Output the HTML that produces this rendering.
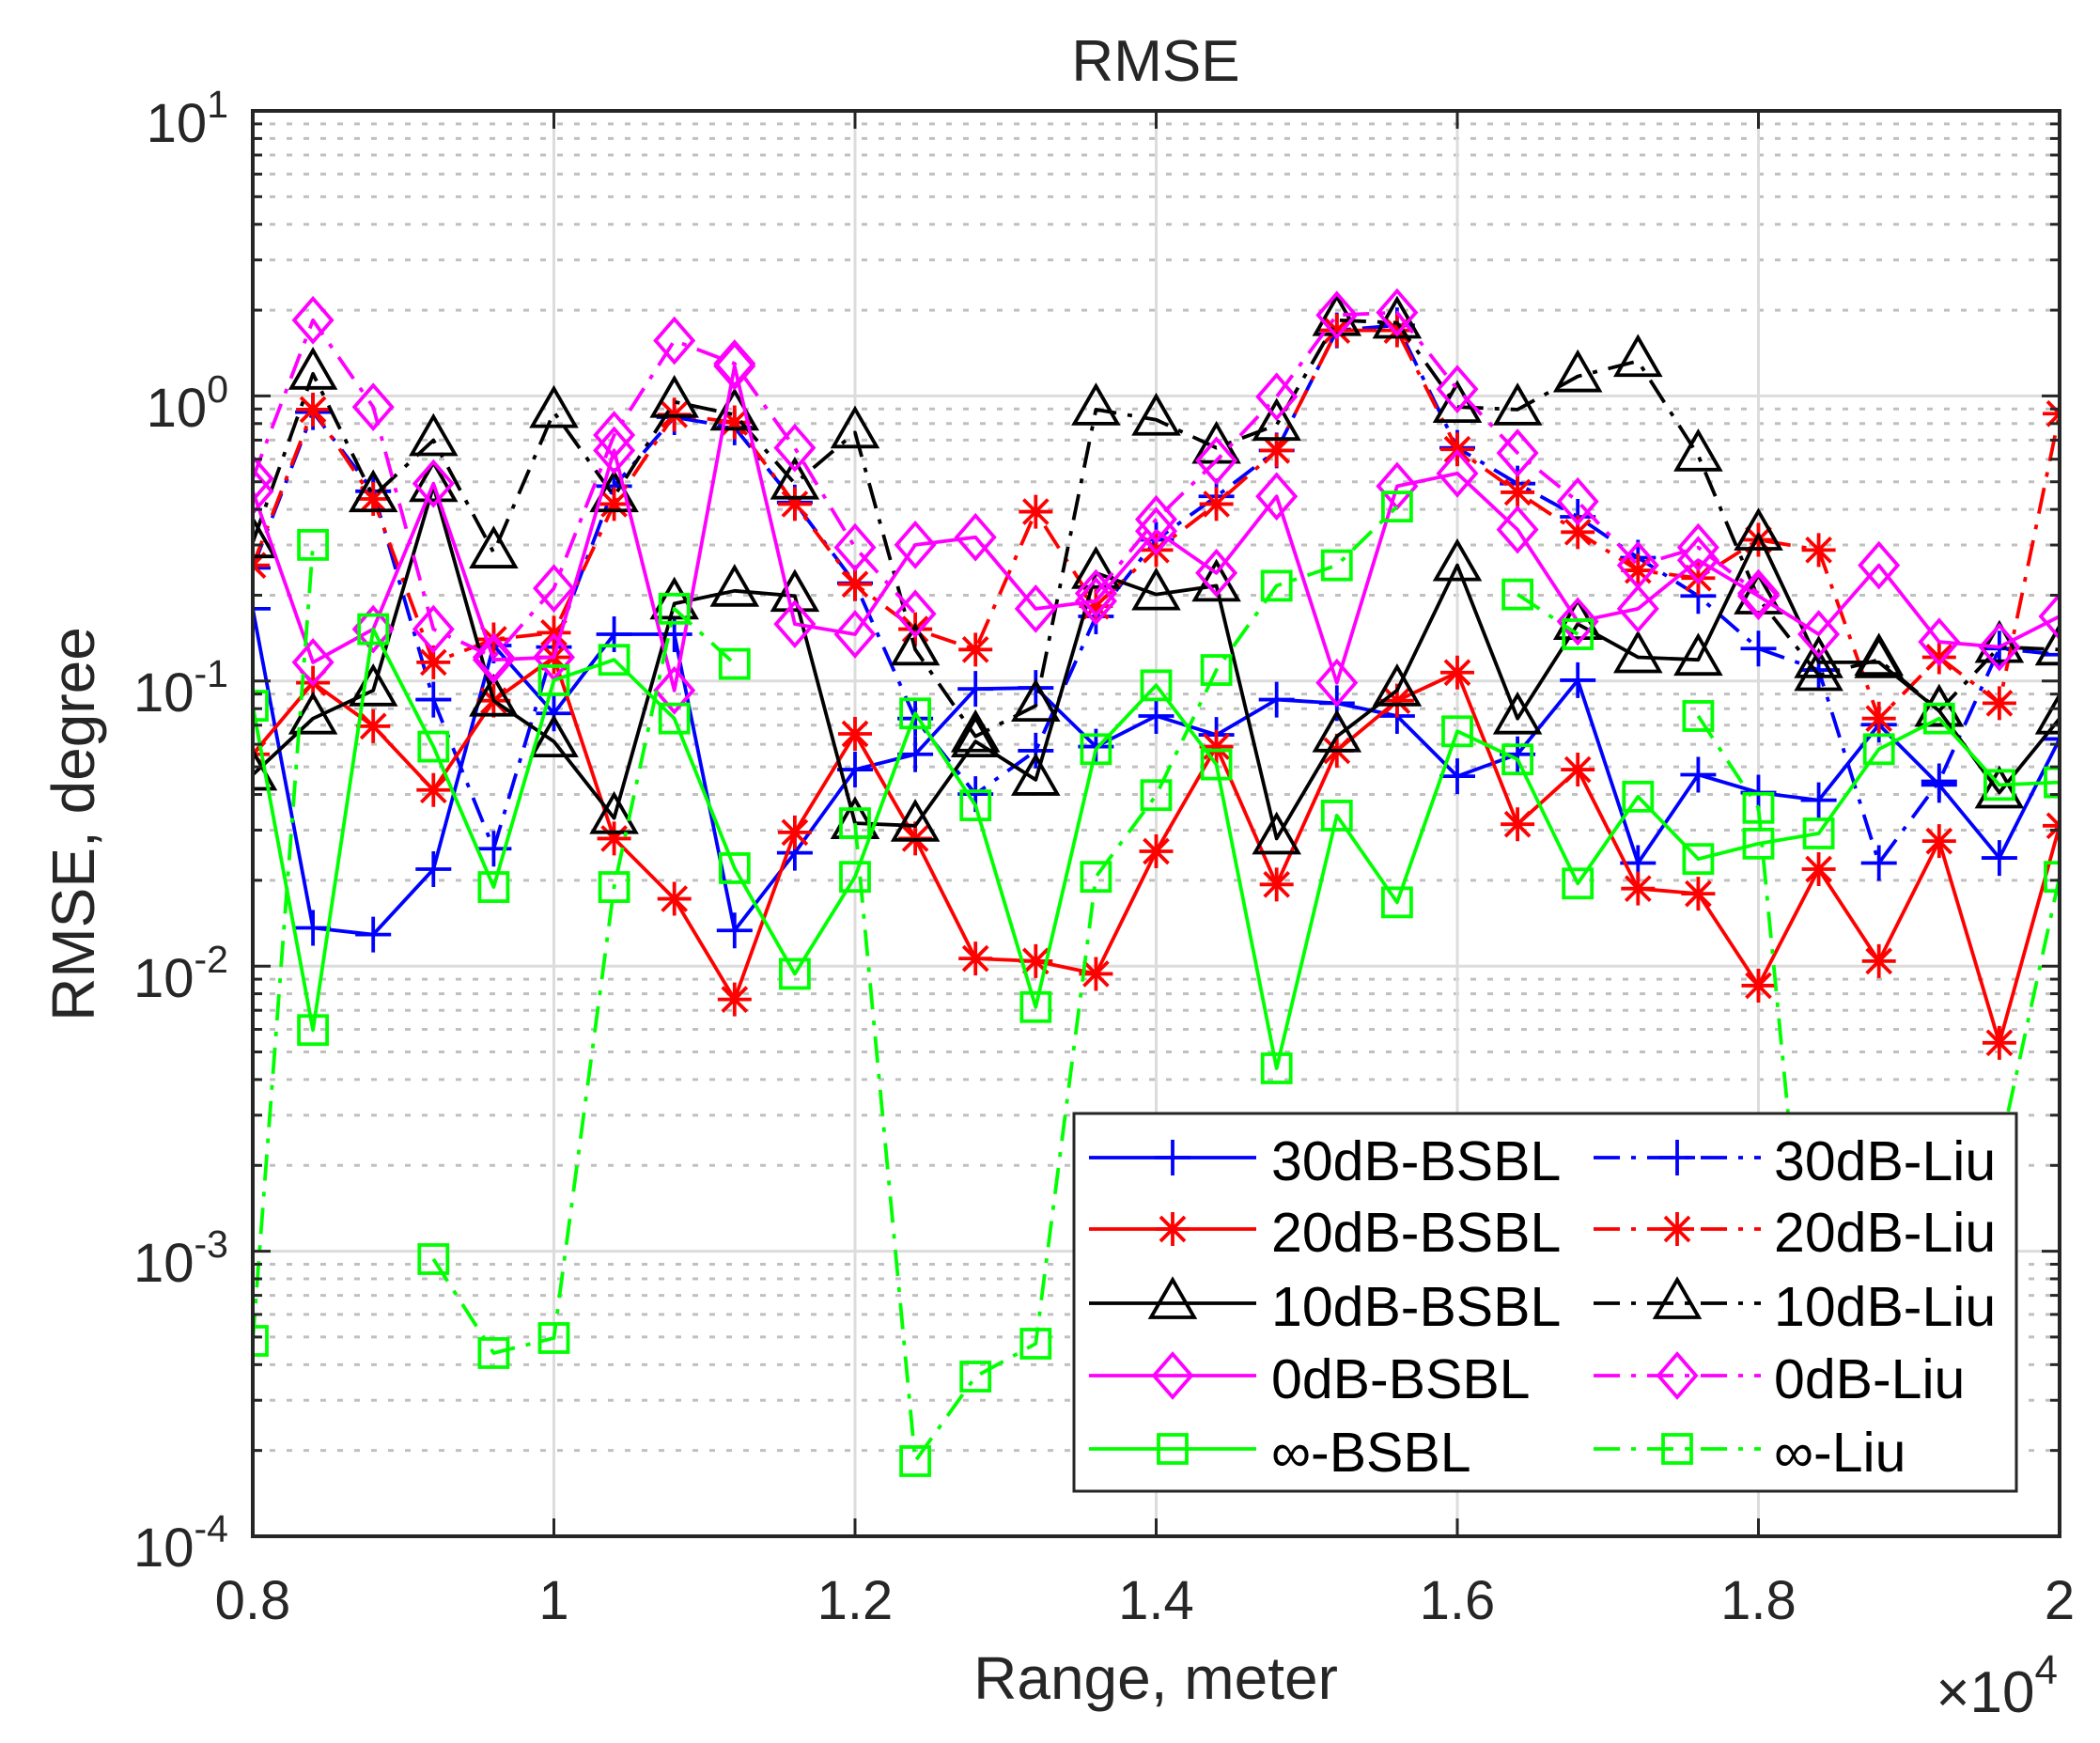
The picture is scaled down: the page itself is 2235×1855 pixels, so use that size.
<!DOCTYPE html>
<html><head><meta charset="utf-8"><style>
html,body{margin:0;padding:0;background:#fff;}
svg{display:block;font-family:"Liberation Sans",Arial,sans-serif;}
</style></head><body>
<svg id="s" width="2235" height="1855" viewBox="0 0 2235 1855" xmlns="http://www.w3.org/2000/svg">
<rect width="2235" height="1855" fill="#fff"/>
<g id="grid"></g>
<g id="series"></g>
<g id="axes"></g>
<g id="legend"></g>
<text x="1230" y="86" font-size="62" text-anchor="middle" fill="#262626">RMSE</text>
<text x="1230" y="1808" font-size="64" text-anchor="middle" fill="#262626">Range, meter</text>
<text transform="translate(100,877) rotate(-90)" font-size="64" text-anchor="middle" fill="#262626">RMSE, degree</text>
<text x="2190" y="1822" font-size="62" text-anchor="end" fill="#262626">×10<tspan dy="-30" font-size="44">4</tspan></text>
<g font-size="58" fill="#262626" text-anchor="middle">
<text x="269" y="1723">0.8</text><text x="589.5" y="1723">1</text><text x="910" y="1723">1.2</text><text x="1230.5" y="1723">1.4</text><text x="1551" y="1723">1.6</text><text x="1871.5" y="1723">1.8</text><text x="2192" y="1723">2</text>
</g>
<g font-size="58" fill="#262626" text-anchor="end">
<text x="243" y="151">10<tspan dy="-26" font-size="41">1</tspan></text>
<text x="243" y="454">10<tspan dy="-26" font-size="41">0</tspan></text>
<text x="243" y="757">10<tspan dy="-26" font-size="41">-1</tspan></text>
<text x="243" y="1061">10<tspan dy="-26" font-size="41">-2</tspan></text>
<text x="243" y="1364">10<tspan dy="-26" font-size="41">-3</tspan></text>
<text x="243" y="1667">10<tspan dy="-26" font-size="41">-4</tspan></text>
</g>
<g font-size="59" fill="#000">
<text x="1353" y="1256">30dB-BSBL</text><text x="1888" y="1256">30dB-Liu</text>
<text x="1353" y="1332">20dB-BSBL</text><text x="1888" y="1332">20dB-Liu</text>
<text x="1353" y="1411">10dB-BSBL</text><text x="1888" y="1411">10dB-Liu</text>
<text x="1353" y="1488">0dB-BSBL</text><text x="1888" y="1488">0dB-Liu</text>
<text x="1353" y="1566">∞-BSBL</text><text x="1888" y="1566">∞-Liu</text>
</g>
</svg>
<script>
var NS="http://www.w3.org/2000/svg";
function el(p,t,a){var e=document.createElementNS(NS,t);for(var k in a)e.setAttribute(k,a[k]);p.appendChild(e);return e;}
var L=269,R=2192,T=118,B=1635,D=303.4,W=3.8,DA='28 12 5 12';
var grid=document.getElementById('grid'),axes=document.getElementById('axes'),ser=document.getElementById('series'),leg=document.getElementById('legend');
for(var d=0;d<5;d++){var yb=T+(d+1)*D;for(var k=2;k<=9;k++){var y=yb-Math.log10(k)*D;
el(grid,'line',{x1:L,x2:R,y1:y,y2:y,stroke:'#c0c0c0','stroke-width':3,'stroke-dasharray':'6 12'});
el(axes,'line',{x1:L,x2:L+10,y1:y,y2:y,stroke:'#262626','stroke-width':3});
el(axes,'line',{x1:R,x2:R-10,y1:y,y2:y,stroke:'#262626','stroke-width':3});}}
for(var d=0;d<=5;d++){var y=T+d*D;el(grid,'line',{x1:L,x2:R,y1:y,y2:y,stroke:'#dcdcdc','stroke-width':3});
el(axes,'line',{x1:L,x2:L+19,y1:y,y2:y,stroke:'#262626','stroke-width':3});
el(axes,'line',{x1:R,x2:R-19,y1:y,y2:y,stroke:'#262626','stroke-width':3});}
for(var j=0;j<=6;j++){var x=L+j*(R-L)/6;el(grid,'line',{x1:x,x2:x,y1:T,y2:B,stroke:'#dcdcdc','stroke-width':3});
el(axes,'line',{x1:x,x2:x,y1:B,y2:B-19,stroke:'#262626','stroke-width':3});
el(axes,'line',{x1:x,x2:x,y1:T,y2:T+19,stroke:'#262626','stroke-width':3});}
el(axes,'rect',{x:L,y:T,width:R-L,height:B-T,fill:'none',stroke:'#262626','stroke-width':4});

function X(i){return L+i*(R-L)/30;}
function Y(z){return 300+z*0.5435;}
var N=null;
var S=[
{c:'#0000ff',m:'plus',d:false,v:[640,1265,1278,1150,712,845,690,690,1270,1118,955,925,797,795,910,850,887,818,825,850,968,925,780,1138,965,1000,1015,867,985,1128,895]},
{c:'#0000ff',m:'plus',d:true,v:[560,255,410,818,1110,715,400,265,285,432,590,855,1003,918,655,505,420,330,95,85,325,395,460,540,615,718,760,1138,978,718,730]},
{c:'#ff0000',m:'star',d:false,v:[925,785,870,995,820,735,1090,1208,1405,1078,885,1090,1325,1330,1355,1115,910,1180,918,820,765,1062,955,1188,1198,1378,1150,1330,1095,1490,1065]},
{c:'#ff0000',m:'star',d:true,v:[555,250,425,745,700,687,435,260,275,435,592,680,720,450,635,525,435,330,95,95,328,412,490,565,580,505,525,855,735,825,258]},
{c:'#000000',m:'tri',d:false,v:[965,855,800,400,820,900,1050,630,605,615,1060,1065,900,975,570,612,595,1090,890,800,555,855,670,735,740,495,745,745,840,1000,855]},
{c:'#000000',m:'tri',d:true,v:[510,180,420,310,530,255,420,235,260,395,295,720,890,830,250,270,325,280,75,80,245,250,185,155,340,620,770,740,840,715,720]},
{c:'#ff00ff',m:'dia',d:false,v:[410,745,680,395,740,735,330,800,165,670,690,515,500,640,625,488,570,420,785,400,375,485,665,640,545,615,690,555,705,715,655]},
{c:'#ff00ff',m:'dia',d:true,v:[385,75,245,680,735,600,300,115,160,325,520,650,N,N,610,465,350,225,65,60,210,335,430,555,520,610,N,N,N,N,N]},
{c:'#00ff00',m:'sq',d:false,v:[830,1465,680,910,1185,780,740,855,1148,1355,1165,845,1025,1420,915,790,945,1540,1045,1215,880,935,1178,1008,1130,1100,1080,915,855,985,980]},
{c:'#00ff00',m:'sq',d:true,v:['a1427',515,N,'a1340','a1440','a1424',1185,640,748,N,1060,'a1555','a1465','a1430',1165,1005,760,595,555,440,N,612,690,N,850,1030,'a1521','a1500','a1400','a1226',1165]}
];
function yv(v){return (typeof v==='string')?parseFloat(v.slice(1)):Y(v);}
function marker(g,m,x,y,c){
 var a={stroke:c,'stroke-width':W,fill:'none'};
 if(m==='plus'){el(g,'path',Object.assign({d:'M'+(x-19)+' '+y+'H'+(x+19)+'M'+x+' '+(y-19)+'V'+(y+19)},a));}
 else if(m==='star'){var r=18,q=13;el(g,'path',Object.assign({d:'M'+(x-r)+' '+y+'H'+(x+r)+'M'+x+' '+(y-r)+'V'+(y+r)+'M'+(x-q)+' '+(y-q)+'L'+(x+q)+' '+(y+q)+'M'+(x-q)+' '+(y+q)+'L'+(x+q)+' '+(y-q)},a));}
 else if(m==='tri'){el(g,'path',Object.assign({d:'M'+x+' '+(y-25)+'L'+(x+23)+' '+(y+15)+'L'+(x-23)+' '+(y+15)+'Z'},a));}
 else if(m==='dia'){el(g,'path',Object.assign({d:'M'+x+' '+(y-23)+'L'+(x+20)+' '+y+'L'+x+' '+(y+23)+'L'+(x-20)+' '+y+'Z'},a));}
 else if(m==='sq'){el(g,'rect',Object.assign({x:x-15,y:y-15,width:30,height:30},a));}
}
var cp=el(ser,'clipPath',{id:'cp'});el(cp,'rect',{x:L,y:T,width:R-L,height:B-T});
var gg=el(ser,'g',{'clip-path':'url(#cp)'});
S.forEach(function(s){
 var segs=[],cur=[];
 s.v.forEach(function(v,i){if(v===N){if(cur.length)segs.push(cur);cur=[];}else cur.push([X(i),yv(v)]);});
 if(cur.length)segs.push(cur);
 segs.forEach(function(sg){if(sg.length<2)return;var a={points:sg.map(function(p){return p.join(',')}).join(' '),fill:'none',stroke:s.c,'stroke-width':W,'stroke-linejoin':'round'};
  if(s.d)a['stroke-dasharray']=DA;el(gg,'polyline',a);});
 s.v.forEach(function(v,i){if(v!==N){var y=yv(v);if(y<B+5)marker(gg,s.m,X(i),y,s.c);}});
});
el(leg,'rect',{x:1143,y:1185,width:1003,height:402,fill:'#fff',stroke:'#262626','stroke-width':3});
var rows=[1232,1308,1387,1464,1542];
for(var r=0;r<5;r++){
 var s1=S[2*r],s2=S[2*r+1];
 el(leg,'line',{x1:1159,x2:1337,y1:rows[r],y2:rows[r],stroke:s1.c,'stroke-width':W});
 marker(leg,s1.m,1248,rows[r],s1.c);
 el(leg,'line',{x1:1696,x2:1874,y1:rows[r],y2:rows[r],stroke:s2.c,'stroke-width':W,'stroke-dasharray':DA});
 marker(leg,s2.m,1785,rows[r],s2.c);
}
</script>
</body></html>
